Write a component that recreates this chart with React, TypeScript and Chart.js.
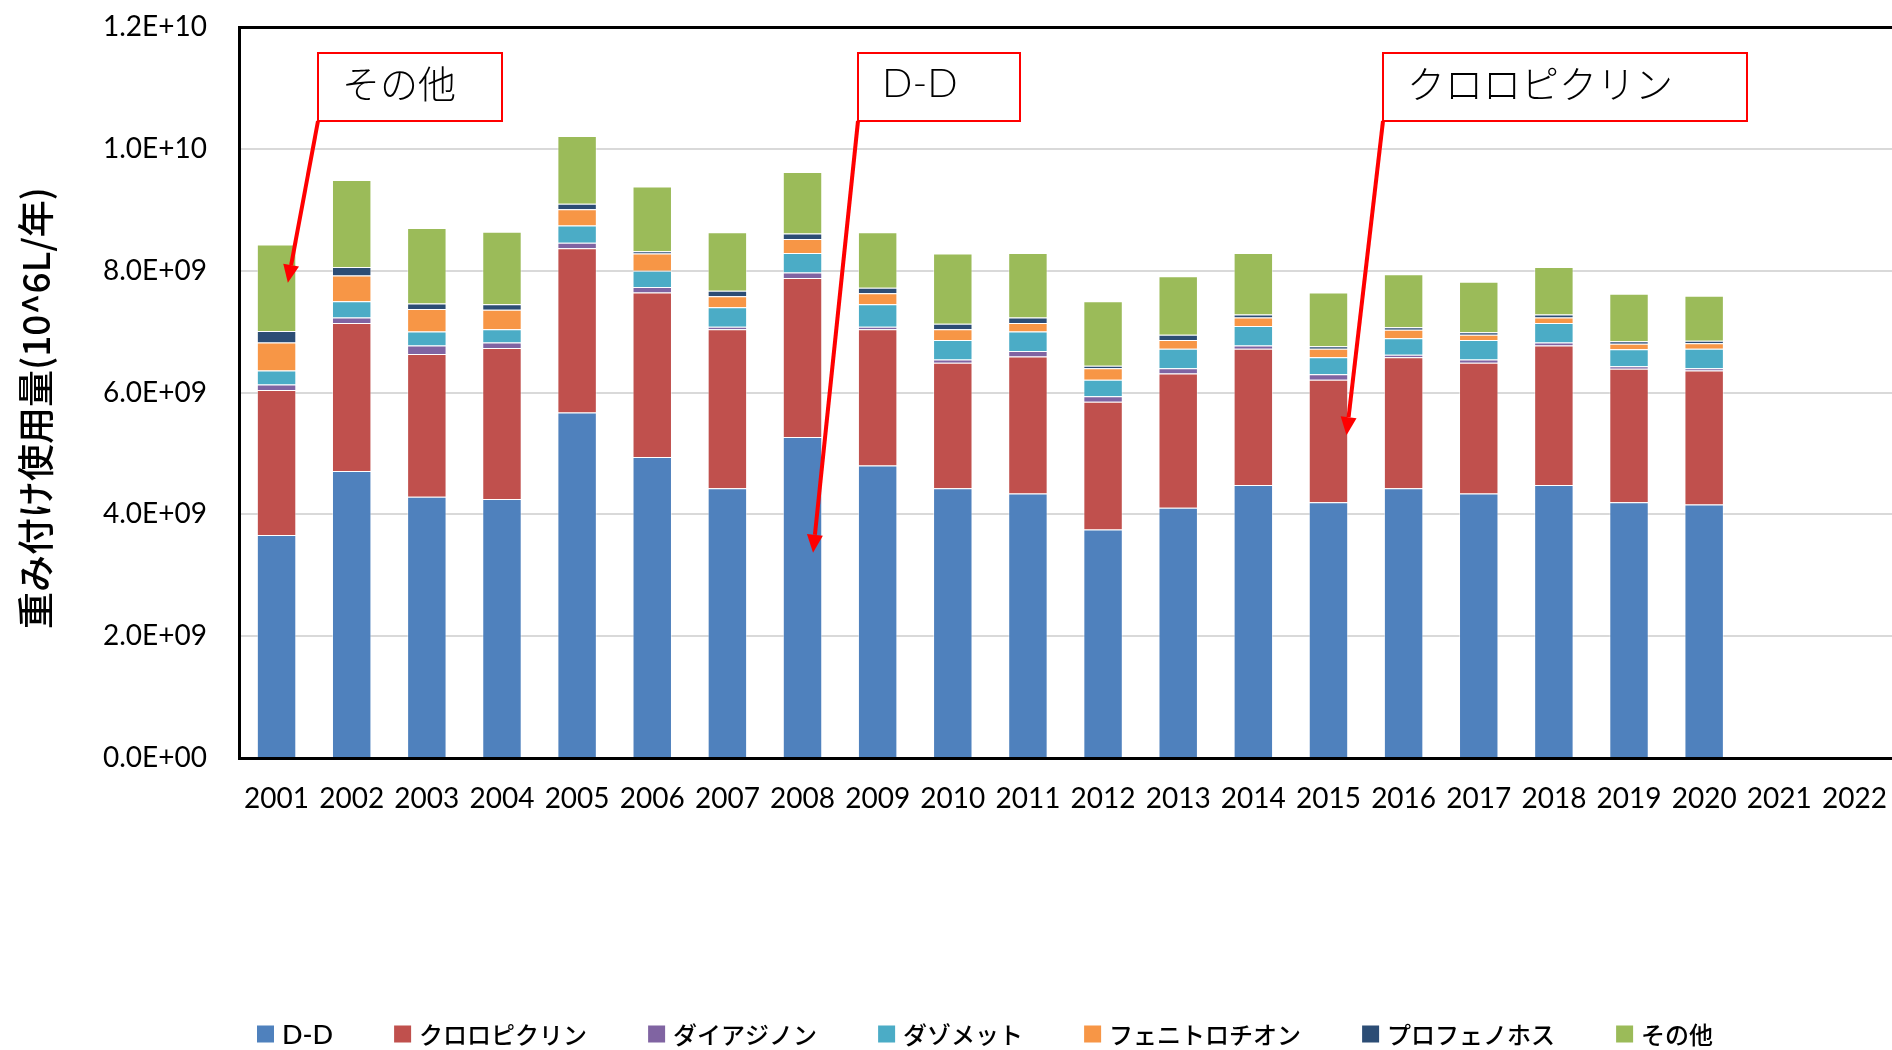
import React, { useEffect, useRef } from 'react';
import { Chart, registerables } from 'chart.js';

Chart.register(...registerables);

// categories
const years = ['2001','2002','2003','2004','2005','2006','2007','2008','2009','2010','2011','2012','2013','2014','2015','2016','2017','2018','2019','2020','2021','2022'];

// series values, in units of 1e9 (10^6 L / year weighted)
const ddValues = [3.66, 4.71, 4.29, 4.25, 5.67, 4.94, 4.43, 5.27, 4.80, 4.43, 4.34, 3.75, 4.11, 4.48, 4.20, 4.43, 4.34, 4.48, 4.20, 4.16, null, null];
const chloropicrinValues = [2.38, 2.43, 2.34, 2.48, 2.70, 2.70, 2.61, 2.61, 2.24, 2.06, 2.25, 2.10, 2.20, 2.24, 2.01, 2.15, 2.15, 2.29, 2.19, 2.20, null, null];
const diazinonValues = [0.09, 0.09, 0.14, 0.09, 0.09, 0.09, 0.04, 0.09, 0.04, 0.05, 0.09, 0.09, 0.09, 0.05, 0.09, 0.04, 0.05, 0.05, 0.04, 0.04, null, null];
const dazometValues = [0.23, 0.27, 0.23, 0.22, 0.28, 0.27, 0.32, 0.32, 0.37, 0.32, 0.32, 0.27, 0.32, 0.32, 0.28, 0.27, 0.32, 0.32, 0.28, 0.32, null, null];
const fenitrothionValues = [0.46, 0.42, 0.37, 0.32, 0.27, 0.28, 0.18, 0.23, 0.18, 0.18, 0.14, 0.19, 0.14, 0.14, 0.14, 0.14, 0.09, 0.09, 0.09, 0.09, null, null];
const profenofosValues = [0.19, 0.14, 0.09, 0.09, 0.09, 0.04, 0.09, 0.09, 0.09, 0.09, 0.09, 0.04, 0.09, 0.05, 0.04, 0.04, 0.04, 0.05, 0.04, 0.04, null, null];
const otherValues = [1.42, 1.43, 1.24, 1.19, 1.11, 1.06, 0.96, 1.01, 0.91, 1.15, 1.06, 1.06, 0.96, 1.01, 0.88, 0.87, 0.83, 0.78, 0.78, 0.74, null, null];

const seriesNames = ['D-D', 'クロロピクリン', 'ダイアジノン', 'ダゾメット', 'フェニトロチオン', 'プロフェノホス', 'その他'];
const seriesColors = ['#4F81BD', '#C0504D', '#8064A2', '#4BACC6', '#F79646', '#2C4D75', '#9BBB59'];
const seriesValues = [ddValues, chloropicrinValues, diazinonValues, dazometValues, fenitrothionValues, profenofosValues, otherValues];

// y ticks
const yMin = 0;
const yMax = 1.2e10;
const yStep = 2e9;
const yTitle = '重み付け使用量(10^6L/年)';

// callouts: label, box [left, top, right, bottom] in px, arrow tip at (category index, value)
const calloutLabels = ['その他', 'D-D', 'クロロピクリン'];
const calloutBoxes = [[318, 53, 502, 121], [858, 53, 1020, 121], [1383, 53, 1747, 121]];
const calloutTipIndex = [0.15, 7.14, 14.24];
const calloutTipValue = [7.8e9, 3.37e9, 5.3e9];

const fmtSci = (v: number) => {
  if (v === 0) return '0.0E+00';
  const e = Math.floor(Math.log10(Math.abs(v)) + 1e-9);
  const m = v / Math.pow(10, e);
  return m.toFixed(1) + 'E+' + String(e).padStart(2, '0');
};

const TICKFONT = 'Lato, "Noto Sans", sans-serif';
const LATIN = 'Lato, "Noto Sans CJK JP", sans-serif';
const JP = '"Noto Sans CJK JP", "DejaVu Sans", sans-serif';

const decorPlugin = {
  id: 'decor',
  afterDraw(chart: any) {
    const ctx = chart.ctx;
    const xs = chart.scales.x;
    const ys = chart.scales.y;
    ctx.save();

    // y-axis title
    ctx.save();
    ctx.translate(36, 408);
    ctx.rotate(-Math.PI / 2);
    ctx.fillStyle = '#000';
    ctx.font = `500 37px ${JP}`;
    ctx.textAlign = 'center';
    ctx.textBaseline = 'middle';
    ctx.fillText(yTitle, 0, 0);
    ctx.restore();

    // legend
    ctx.textBaseline = 'middle';
    ctx.textAlign = 'left';
    let x = 257;
    const ly = 1034;
    chart.data.datasets.forEach((ds: any) => {
      ctx.fillStyle = ds.backgroundColor;
      ctx.fillRect(x, ly - 8.5, 17, 17);
      ctx.fillStyle = '#000';
      ctx.font = ds.label === 'D-D' ? `500 27px ${LATIN}` : `500 24px ${JP}`;
      ctx.fillText(ds.label, x + 25, ly + 1);
      x += 25 + ctx.measureText(ds.label).width + 61;
    });

    // callouts
    calloutLabels.forEach((label, i) => {
      const [l, t, r, b] = calloutBoxes[i];
      ctx.fillStyle = '#fff';
      ctx.fillRect(l, t, r - l, b - t);
      ctx.strokeStyle = '#FF0000';
      ctx.lineWidth = 2;
      ctx.strokeRect(l, t, r - l, b - t);
      ctx.fillStyle = '#000';
      ctx.font = label === 'D-D' ? `300 40px ${LATIN}` : `300 38px ${JP}`;
      ctx.textAlign = 'left';
      ctx.textBaseline = 'middle';
      ctx.fillText(label, l + 24, t + 31);

      const tx = xs.getPixelForValue(calloutTipIndex[i]);
      const ty = ys.getPixelForValue(calloutTipValue[i]);
      const sx = l, sy = b;
      const ang = Math.atan2(ty - sy, tx - sx);
      const headLen = 18, headW = 8;
      const bx = tx - headLen * Math.cos(ang);
      const by = ty - headLen * Math.sin(ang);
      ctx.strokeStyle = '#FF0000';
      ctx.lineWidth = 4;
      ctx.beginPath();
      ctx.moveTo(sx, sy);
      ctx.lineTo(bx, by);
      ctx.stroke();
      ctx.fillStyle = '#FF0000';
      ctx.beginPath();
      ctx.moveTo(tx, ty);
      ctx.lineTo(bx + headW * Math.sin(ang), by - headW * Math.cos(ang));
      ctx.lineTo(bx - headW * Math.sin(ang), by + headW * Math.cos(ang));
      ctx.closePath();
      ctx.fill();
    });

    ctx.restore();
  },
};

export default function App() {
  const ref = useRef<HTMLCanvasElement | null>(null);

  useEffect(() => {
    const canvas = ref.current;
    if (!canvas) return;
    const datasets = seriesNames.map((name, i) => ({
      label: name,
      data: seriesValues[i].map((v) => (v == null ? null : v * 1e9)),
      backgroundColor: seriesColors[i],
      borderColor: 'rgba(255,255,255,0.45)',
      borderWidth: 1,
      barPercentage: 0.525,
      categoryPercentage: 1,
    }));
    const chart = new Chart(canvas, {
      type: 'bar',
      data: { labels: years, datasets },
      plugins: [decorPlugin],
      options: {
        animation: false,
        responsive: false,
        devicePixelRatio: 1,
        layout: { padding: { top: 27, right: 0, left: 0, bottom: 0 } },
        plugins: {
          legend: { display: false },
          tooltip: { enabled: false },
          title: { display: false },
        },
        scales: {
          x: {
            stacked: true,
            grid: { display: false, drawTicks: true, tickLength: 24, tickColor: 'rgba(0,0,0,0)' },
            border: { display: true, color: '#000', width: 3 },
            ticks: { color: '#000', font: { family: TICKFONT, size: 28 }, padding: 0, maxRotation: 0, autoSkip: false },
            afterFit: (s: any) => { s.height = 292; },
          },
          y: {
            stacked: true,
            min: yMin,
            max: yMax,
            ticks: { stepSize: yStep, color: '#000', font: { family: TICKFONT, size: 28 }, padding: 0, callback: (v: any) => fmtSci(Number(v)) },
            grid: {
              drawTicks: true,
              tickLength: 32,
              tickColor: 'rgba(0,0,0,0)',
              color: (c: any) => (c.tick && c.tick.value === yMax ? '#000' : '#D9D9D9'),
              lineWidth: (c: any) => (c.tick && c.tick.value === yMax ? 3 : 2),
            },
            border: { display: true, color: '#000', width: 3 },
            afterFit: (s: any) => { s.width = 239; },
          },
        },
      },
    });
    return () => chart.destroy();
  }, []);

  return (
    <div style={{ position: 'absolute', left: 0, top: 0, width: 1892, height: 1050, background: '#fff' }}>
      <canvas ref={ref} width={1892} height={1050} style={{ display: 'block', width: 1892, height: 1050 }} />
    </div>
  );
}
